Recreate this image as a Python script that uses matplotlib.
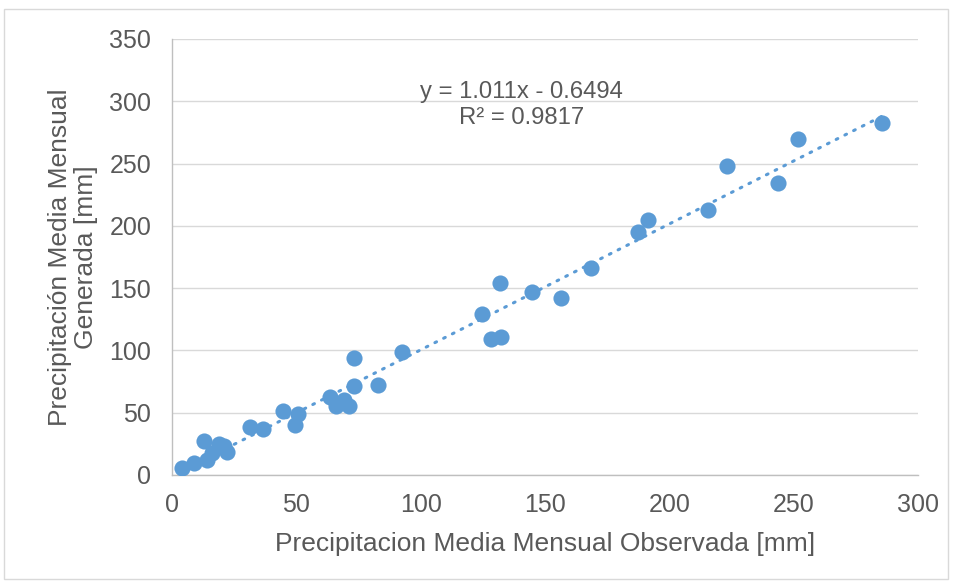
import matplotlib
matplotlib.use("Agg")
import matplotlib.pyplot as plt
import numpy as np
from matplotlib.patches import Rectangle

obs = [4.0, 9.0, 14.0, 12.8, 16.0, 19.0, 21.0, 22.0,
       31.4, 36.5, 44.5, 50.8, 49.5, 63.5, 65.8, 69.3, 71.3, 73.2, 83.0, 73.2,
       92.4, 124.5, 128.1, 132.5, 131.9, 144.9, 156.3, 168.5,
       187.2, 191.3, 215.4, 223.0, 243.8, 251.8, 285.4]
gen = [5.6, 9.5, 12.0, 27.0, 18.0, 25.0, 23.0, 18.5,
       38.8, 36.7, 51.6, 48.7, 40.1, 62.9, 55.6, 60.2, 55.6, 71.7, 72.2, 93.9,
       99.0, 129.2, 108.9, 110.5, 153.9, 147.2, 142.1, 165.9,
       194.8, 204.7, 212.7, 248.0, 234.7, 269.5, 282.3]
slope, intercept = 1.011, -0.6494
eq_text = "y = 1.011x - 0.6494"
r2_text = "R² = 0.9817"
xlabel = "Precipitacion Media Mensual Observada [mm]"
ylabel = "Precipitación Media Mensual\nGenerada [mm]"
xticks = [0, 50, 100, 150, 200, 250, 300]
yticks = [0, 50, 100, 150, 200, 250, 300, 350]

plt.rcParams['font.family'] = ['Liberation Sans', 'DejaVu Sans']
color = '#5B9BD5'
txt = '#595959'

fig = plt.figure(figsize=(9.58, 5.83), dpi=100)
fig.patches.append(Rectangle((4/958, 1-579/583), 944/958, 570/583, transform=fig.transFigure,
                             fill=False, edgecolor='#D9D9D9', linewidth=1))
ax = fig.add_axes([172/958, 1-475/583, (918-172)/958, (475-39)/583])
ax.set_xlim(0, 300)
ax.set_ylim(0, 350)
ax.set_xticks(xticks)
ax.set_yticks(yticks)
ax.grid(axis='y', color='#D9D9D9', linewidth=1)
ax.set_axisbelow(True)
for s in ['top', 'right']:
    ax.spines[s].set_visible(False)
for s in ['left', 'bottom']:
    ax.spines[s].set_color('#BFBFBF')
    ax.spines[s].set_linewidth(1)
ax.tick_params(length=0, labelsize=18, colors=txt)
ax.tick_params(axis='x', pad=13)
ax.tick_params(axis='y', pad=15)

ax.scatter(obs, gen, s=135, color=color, zorder=3, linewidths=0)
xs = np.array([min(obs), max(obs)])
ax.plot(xs, slope * xs + intercept, linestyle=(0, (0.6, 2.6)), color=color,
        linewidth=2.2, dash_capstyle='round', zorder=2)

ax.text(140.7, 307.5, eq_text, ha='center', va='center', fontsize=17.2, color=txt)
ax.text(140.7, 286.5, r2_text, ha='center', va='center', fontsize=17.2, color=txt)

ax.set_xlabel(xlabel, fontsize=19, color=txt, labelpad=11)
ax.set_ylabel(ylabel, fontsize=19, color=txt, labelpad=8, linespacing=1.1)

fig.savefig("out.png", dpi=100)
